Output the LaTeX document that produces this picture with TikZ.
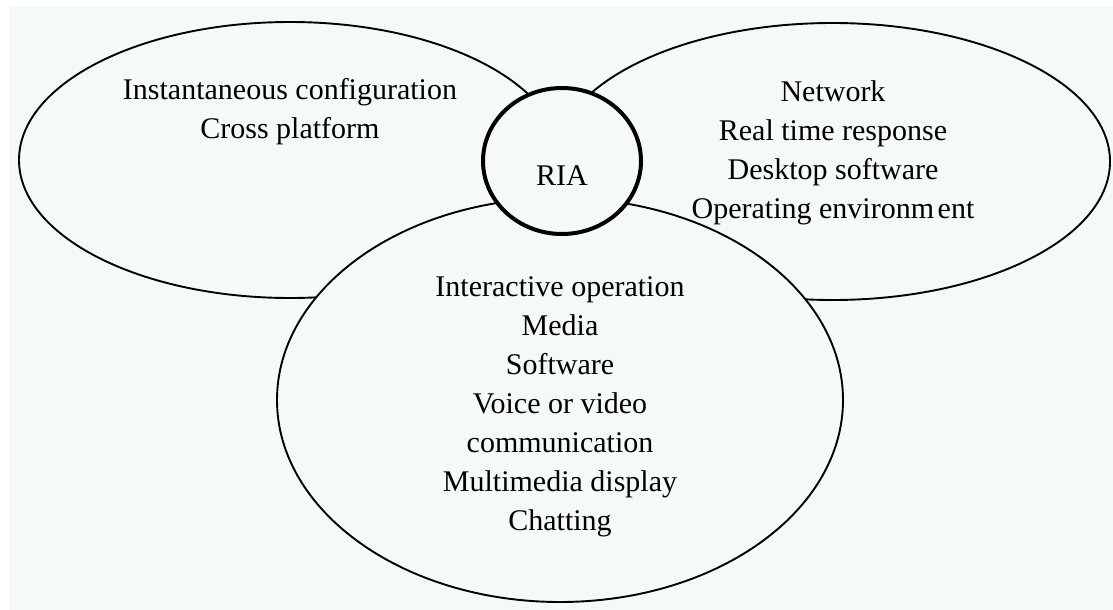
\documentclass[tikz,border=0pt]{standalone}
\usepackage{fontspec}
\setmainfont{Liberation Serif}
\usetikzlibrary{shapes.geometric}
\definecolor{paper}{RGB}{245,250,248}
\tikzset{
  setshape/.style={ellipse, draw=black, line width=1.9pt, fill=paper, inner sep=0pt, outer sep=0pt},
  coreshape/.style={ellipse, draw=black, line width=4pt, fill=paper, inner sep=0pt, outer sep=0pt},
  % base anchor of a multi-line label sits on its last line
  lbl/.style={align=center, font=\fontsize{30}{39}\selectfont, inner sep=0pt, anchor=base},
}
\begin{document}
\begin{tikzpicture}[x=1pt,y=-1pt]
% page and tinted panel
\fill[white] (0,0) rectangle (1113,610);
\fill[paper] (9,6) rectangle (1113,610);
\useasboundingbox (0,0) rectangle (1113,610);

% the three feature sets
\node[setshape, minimum width=542pt, minimum height=276pt] (leftset) at (290,160) {};
\node[setshape, minimum width=555pt, minimum height=277pt] (rightset) at (832.5,161.5) {};
\node[setshape, minimum width=566pt, minimum height=404pt] (bottomset) at (560,400) {};

% the core in the middle
\node[coreshape, minimum width=158pt, minimum height=146pt] (ria) at (562,161) {};
\node[lbl] (rialabel) at (562,185) {RIA};

% set contents
\node[lbl] (lefttext) at (290,138) {Instantaneous configuration\\Cross platform};
\node[lbl] (righttext) at (833,218) {Network\\Real time response\\Desktop software\\Operating environm\kern0.12em ent};
\node[lbl] (bottomtext) at (560,530) {Interactive operation\\Media\\Software\\Voice or video\\communication\\Multimedia display\\Chatting};
\end{tikzpicture}
\end{document}
